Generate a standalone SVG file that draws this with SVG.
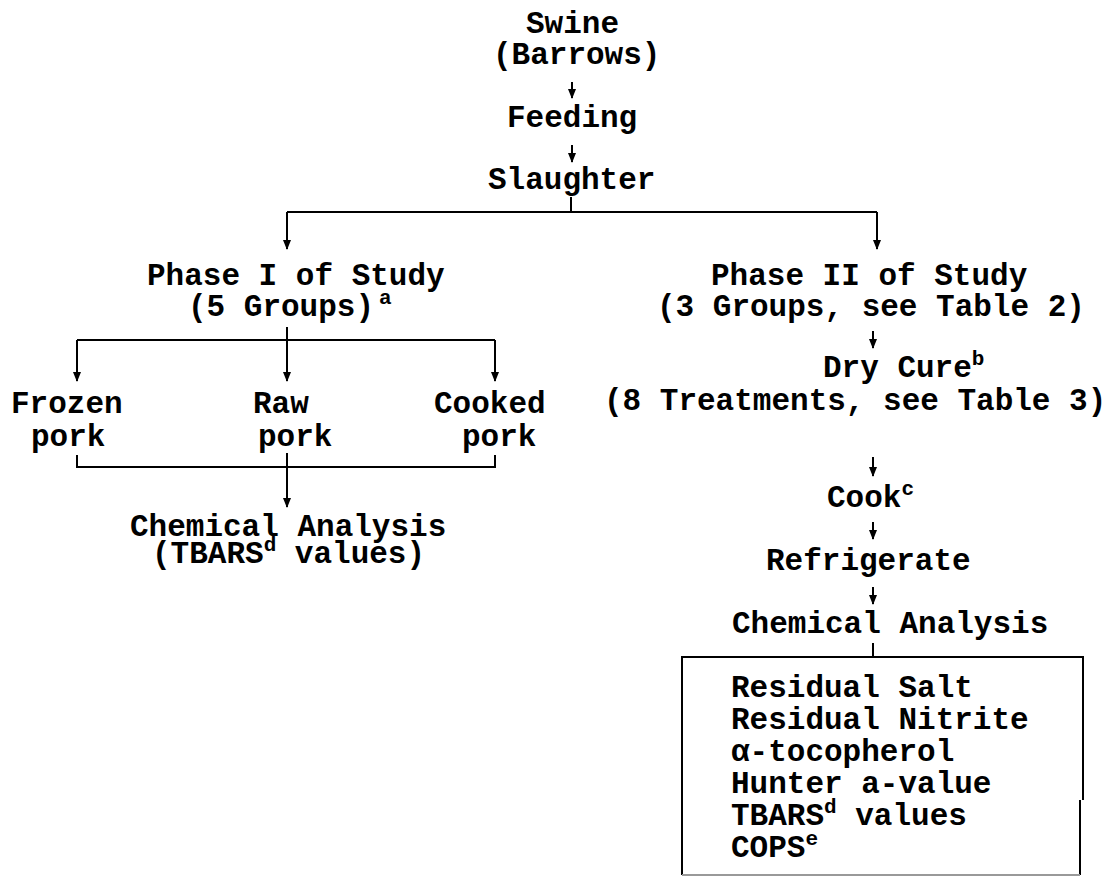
<svg xmlns="http://www.w3.org/2000/svg" width="1111" height="878" viewBox="0 0 1111 878">
<style>
text{font-family:"Liberation Mono","Courier New",monospace;font-weight:bold;font-size:31px;fill:#000}
.sup{font-size:21px}
.ln{stroke:#000;stroke-width:2;fill:none}
.ar{stroke:#000;stroke-width:2;fill:none;marker-end:url(#ah)}
</style>
<defs>
<marker id="ah" markerUnits="userSpaceOnUse" markerWidth="10" markerHeight="8" refX="9" refY="4" orient="auto" viewBox="0 0 10 8">
<path d="M0,0 L10,4 L0,8 Z" fill="#000"/>
</marker>
</defs>
<rect width="1111" height="878" fill="#fff"/>
<g id="connectors">
<line class="ar" x1="572" y1="82" x2="572" y2="98"/>
<line class="ar" x1="572" y1="145" x2="572" y2="162"/>
<path class="ln" d="M571,197 V212 M287,212 H877"/>
<line class="ar" x1="287" y1="212" x2="287" y2="249"/>
<line class="ar" x1="877" y1="212" x2="877" y2="249"/>
<path class="ln" d="M287,327 V340 M77,340 H495"/>
<line class="ar" x1="77" y1="340" x2="77" y2="381"/>
<line class="ar" x1="287" y1="340" x2="287" y2="381"/>
<line class="ar" x1="495" y1="340" x2="495" y2="381"/>
<path class="ln" d="M77,455 V467 H495 V455"/>
<line class="ar" x1="287" y1="453" x2="287" y2="507"/>
<line class="ar" x1="873" y1="331" x2="873" y2="348"/>
<line class="ar" x1="873" y1="457" x2="873" y2="476"/>
<line class="ar" x1="873" y1="522" x2="873" y2="539"/>
<line class="ar" x1="873" y1="587" x2="873" y2="604"/>
<path class="ln" d="M873,643 V657"/>
</g>
<g id="swine"><text x="526" y="33">Swine</text><text x="493" y="64">(Barrows)</text></g>
<g id="feeding"><text x="507" y="127">Feeding</text></g>
<g id="slaughter"><text x="488" y="189">Slaughter</text></g>
<g id="phase1"><text x="147" y="285">Phase I of Study</text><text x="188" y="316">(5 Groups)<tspan class="sup" dx="5" dy="-12">a</tspan></text></g>
<g id="frozen"><text x="11" y="413">Frozen</text><text x="31" y="446">pork</text></g>
<g id="raw"><text x="253" y="413">Raw</text><text x="258" y="446">pork</text></g>
<g id="cooked"><text x="434" y="413">Cooked</text><text x="462" y="446">pork</text></g>
<g id="chem1"><text x="130" y="536">Chemical Analysis</text><text x="152" y="563">(TBARS<tspan class="sup" dy="-12">d</tspan><tspan dy="12"> values)</tspan></text></g>
<g id="phase2"><text x="711" y="285">Phase II of Study</text><text x="657" y="316">(3 Groups, see Table 2)</text></g>
<g id="drycure"><text x="823" y="377">Dry Cure<tspan class="sup" dy="-12">b</tspan></text><text x="604" y="410">(8 Treatments, see Table 3)</text></g>
<g id="cook"><text x="827" y="507">Cook<tspan class="sup" dy="-12">c</tspan></text></g>
<g id="refrigerate"><text x="766" y="570">Refrigerate</text></g>
<g id="chem2"><text x="732" y="633">Chemical Analysis</text></g>
<g id="results">
<path class="ln" d="M682,875 V657 H1083 V800 M1080,800 V875"/>
<line x1="682" y1="875" x2="1080" y2="875" stroke="#999" stroke-width="2"/>
<text x="731" y="697">Residual Salt</text>
<text x="731" y="729">Residual Nitrite</text>
<text x="731" y="761">α-tocopherol</text>
<text x="731" y="793">Hunter a-value</text>
<text x="731" y="825">TBARS<tspan class="sup" dy="-12">d</tspan><tspan dy="12"> values</tspan></text>
<text x="731" y="857">COPS<tspan class="sup" dy="-12">e</tspan></text>
</g>
</svg>
